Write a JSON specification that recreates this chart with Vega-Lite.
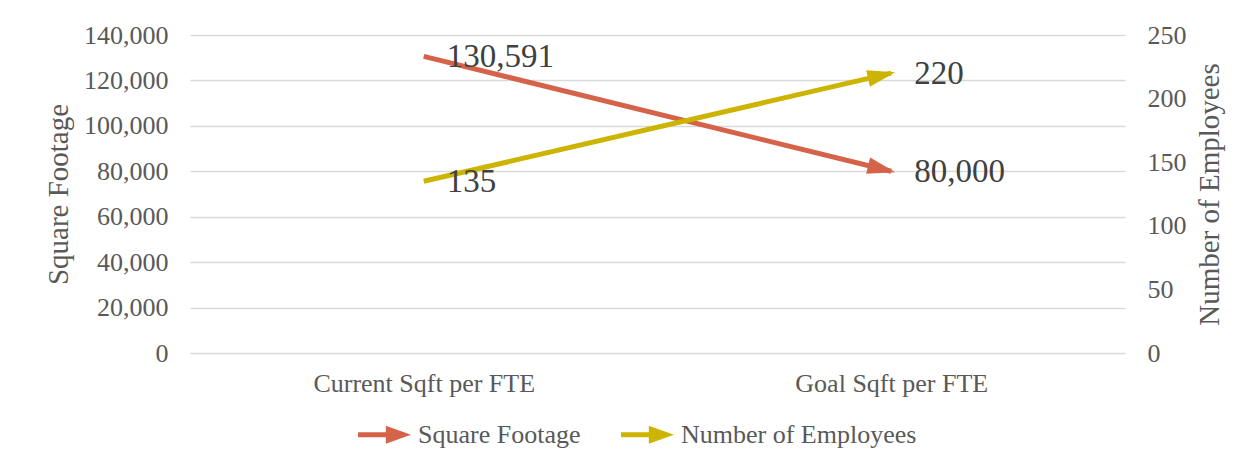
{
  "$schema": "https://vega.github.io/schema/vega-lite/v6.json",
  "width": 935,
  "height": 318,
  "autosize": "none",
  "padding": {"left": 190, "top": 35, "right": 132, "bottom": 117},
  "background": "white",
  "config": {
    "font": "Liberation Serif",
    "view": {"stroke": null},
    "axis": {
      "labelFont": "Liberation Serif",
      "labelFontSize": 26,
      "labelColor": "#595959",
      "labelLimit": 1000,
      "titleFont": "Liberation Serif",
      "titleFontSize": 29,
      "titleFontWeight": "normal",
      "titleColor": "#595959",
      "domain": false,
      "ticks": false
    }
  },
  "datasets": {
    "sqft": [
      {"category": "Current Sqft per FTE", "series": "Square Footage", "value": 130591},
      {"category": "Goal Sqft per FTE", "series": "Square Footage", "value": 80000}
    ],
    "emp": [
      {"category": "Current Sqft per FTE", "series": "Number of Employees", "value": 135},
      {"category": "Goal Sqft per FTE", "series": "Number of Employees", "value": 220}
    ]
  },
  "layer": [
    {
      "data": {"name": "sqft"},
      "encoding": {
        "x": {
          "field": "category",
          "type": "nominal",
          "sort": null,
          "scale": {"type": "point", "padding": 0.5, "domain": ["Current Sqft per FTE", "Goal Sqft per FTE"]},
          "axis": {"title": null, "labelAngle": 0, "labelPadding": 17, "grid": false, "labelLimit": 1000}
        },
        "y": {
          "field": "value",
          "type": "quantitative",
          "scale": {"domain": [0, 140000], "nice": false, "zero": true},
          "axis": {
            "orient": "left",
            "title": "Square Footage",
            "values": [0, 20000, 40000, 60000, 80000, 100000, 120000, 140000],
            "format": ",.0f",
            "labelPadding": 22,
            "titlePadding": 10,
            "grid": true,
            "gridColor": "#D9D9D9",
            "gridWidth": 1.5
          }
        }
      },
      "layer": [
        {
          "mark": {"type": "line", "strokeWidth": 5, "strokeCap": "butt"},
          "encoding": {
            "color": {
              "field": "series",
              "type": "nominal",
              "scale": {"domain": ["Square Footage", "Number of Employees"], "range": ["#D5634A", "#CCB400"]},
              "legend": {
                "title": null,
                "orient": "none",
                "direction": "horizontal",
                "legendX": 168,
                "legendY": 373,
                "padding": 0,
                "symbolType": "M-1,-0.095L0.05,-0.095L0.05,-0.34L1,0L0.05,0.34L0.05,0.095L-1,0.095Z",
                "symbolSize": 2809,
                "symbolStrokeWidth": 0,
                "labelFont": "Liberation Serif",
                "labelFontSize": 26,
                "labelColor": "#595959",
                "labelLimit": 1000,
                "labelOffset": 7,
                "columnPadding": 40,
                "encode": {
                  "symbols": {
                    "update": {
                      "fill": {"scale": "color", "field": "value"},
                      "fillOpacity": {"value": 1},
                      "opacity": {"value": 1},
                      "strokeWidth": {"value": 0}
                    }
                  }
                }
              }
            }
          }
        },
        {
          "transform": [{"filter": "datum.category == 'Goal Sqft per FTE'"}],
          "mark": {"type": "point", "shape": "M0.15,0L-0.85,-0.3L-0.85,0.3Z", "filled": true, "opacity": 1, "size": 3136, "angle": 13.8, "strokeWidth": 0},
          "encoding": {
            "color": {"field": "series", "type": "nominal"}
          }
        },
        {
          "mark": {"type": "text", "align": "left", "baseline": "middle", "dx": 23, "dy": 1, "font": "Liberation Serif", "fontSize": 33, "color": "#404040"},
          "encoding": {
            "text": {"field": "value", "type": "quantitative", "format": ",.0f"}
          }
        }
      ]
    },
    {
      "data": {"name": "emp"},
      "encoding": {
        "x": {
          "field": "category",
          "type": "nominal",
          "sort": null,
          "scale": {"type": "point", "padding": 0.5, "domain": ["Current Sqft per FTE", "Goal Sqft per FTE"]},
          "axis": {"title": null, "labelAngle": 0, "labelPadding": 17, "grid": false, "labelLimit": 1000}
        },
        "y": {
          "field": "value",
          "type": "quantitative",
          "scale": {"domain": [0, 250], "nice": false, "zero": true},
          "axis": {
            "orient": "right",
            "title": "Number of Employees",
            "values": [0, 50, 100, 150, 200, 250],
            "format": "d",
            "labelPadding": 22,
            "titlePadding": 9,
            "titleAngle": 270,
            "titleBaseline": "top",
            "grid": false
          }
        }
      },
      "layer": [
        {
          "mark": {"type": "line", "strokeWidth": 5, "strokeCap": "butt"},
          "encoding": {
            "color": {"field": "series", "type": "nominal"}
          }
        },
        {
          "transform": [{"filter": "datum.category == 'Goal Sqft per FTE'"}],
          "mark": {"type": "point", "shape": "M0.15,0L-0.85,-0.3L-0.85,0.3Z", "filled": true, "opacity": 1, "size": 3136, "angle": 347, "strokeWidth": 0},
          "encoding": {
            "color": {"field": "series", "type": "nominal"}
          }
        },
        {
          "mark": {"type": "text", "align": "left", "baseline": "middle", "dx": 23, "dy": 1, "font": "Liberation Serif", "fontSize": 33, "color": "#404040"},
          "encoding": {
            "text": {"field": "value", "type": "quantitative", "format": "d"}
          }
        }
      ]
    }
  ],
  "resolve": {"scale": {"y": "independent"}}
}
